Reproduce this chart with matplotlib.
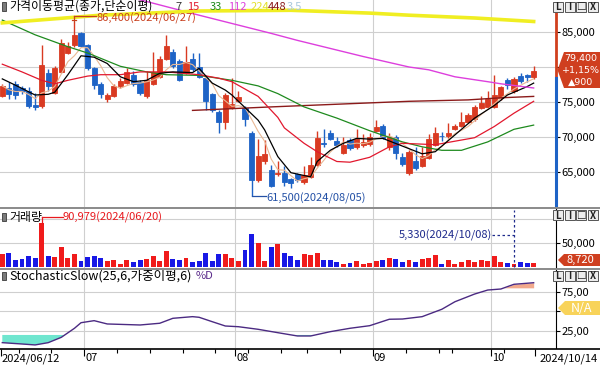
import numpy as np
import pandas as pd
import matplotlib
matplotlib.use("Agg")
import matplotlib.pyplot as plt
from matplotlib.patches import Polygon, Rectangle
from matplotlib.lines import Line2D

plt.rcParams['font.family'] = ['Noto Sans CJK KR', 'DejaVu Sans']
plt.rcParams['axes.unicode_minus'] = False

# ---------------- data ----------------
first_date = "2024/06/12"
last_date = "2024/10/14"
month_labels = ["07", "08", "09", "10"]
month_first_idx = [13, 36, 57, 75]
week_first_idx = [3, 8, 18, 23, 28, 33, 38, 43, 47, 52, 62, 67, 69, 77]

open_ = [75900, 77000, 77600, 77000, 76600, 74600, 74400, 79100, 76300, 79300,
         82000, 83200, 84800, 83100, 79800, 77600, 75400, 75900, 77300, 77700,
         78900, 77900, 75800, 77600, 78600, 81200, 82200, 80900, 79200, 81200,
         80000, 78400, 76100, 73600, 72100, 74200, 75200, 74200, 70500, 63800,
         66500, 65300, 64700, 64900, 64000, 64700, 63500, 64300, 66000, 69200,
         70600, 69400, 67700, 69600, 68500, 68800, 69000, 70900, 71600, 68500,
         70000, 67200, 64800, 66500, 65900, 67000, 68900, 70200, 70100, 71200,
         71600, 72200, 72500, 74200, 74300, 74300, 75500, 78200, 76500, 78700,
         78900, 78500]
high = [77500, 77800, 78000, 77300, 77100, 76300, 83100, 79700, 80100, 84000,
        83600, 86400, 85000, 83300, 80000, 77800, 76300, 77500, 78400, 79800,
        79400, 78100, 79400, 82200, 81600, 84600, 82600, 81100, 83000, 82000,
        82000, 78600, 76300, 73800, 76300, 78400, 76500, 74400, 70800, 69700,
        69500, 66000, 66600, 65800, 64200, 64900, 65900, 67200, 70800, 71200,
        71000, 70000, 70000, 69800, 71200, 70400, 70600, 72400, 71800, 70600,
        70300, 67700, 68100, 68600, 68500, 70400, 71400, 70700, 72000, 71900,
        73600, 73400, 74600, 75800, 76600, 78900, 77300, 78400, 78600, 79100,
        79000, 80200]
low = [75700, 75400, 75400, 76200, 74100, 73900, 74100, 76600, 76100, 79100,
       81800, 82800, 82800, 79600, 76800, 75500, 75000, 75700, 77000, 77500,
       77300, 76000, 75600, 77400, 78400, 81000, 79900, 78000, 79000, 79400,
       78400, 73800, 73500, 70600, 71100, 74000, 75000, 71600, 61500, 63500,
       66200, 62800, 64400, 63000, 62700, 63500, 63300, 64100, 65800, 68600,
       69500, 68500, 67500, 68200, 68300, 68600, 68700, 70700, 69700, 68100,
       66800, 65800, 64500, 65300, 65700, 66800, 68700, 69400, 69900, 71000,
       71400, 72000, 72300, 74000, 74100, 74100, 75300, 76900, 76300, 77700,
       77800, 78300]
close = [77300, 76200, 76000, 76500, 74400, 74300, 80300, 77300, 79800, 83400,
         83000, 84600, 83000, 79800, 77400, 76100, 76000, 77300, 78000, 79300,
         77600, 76300, 78200, 79300, 81200, 83000, 80100, 78200, 80700, 79700,
         78600, 75200, 73900, 72100, 76000, 74700, 75700, 72500, 63800, 67300,
         67600, 63000, 64900, 63500, 63400, 63800, 64600, 66000, 69900, 69000,
         69700, 68900, 68900, 68400, 69700, 69300, 70000, 71400, 69900, 70000,
         67700, 66200, 67900, 65500, 67300, 69700, 70500, 70100, 70500, 71600,
         72100, 73100, 74300, 74900, 75400, 76000, 77200, 77400, 78300, 78000,
         78500, 79400]
volume = [27800, 29200, 15300, 17400, 22200, 18800, 90979, 22200, 20800, 41700,
          18800, 27800, 11800, 20800, 22200, 19400, 12500, 13900, 6900, 13900,
          10400, 15300, 17400, 22900, 12500, 33300, 17400, 13900, 18100, 11100,
          11800, 29900, 12500, 26400, 26400, 19400, 12500, 36100, 68000, 50000,
          12500, 41700, 47200, 29200, 22200, 13900, 26400, 24300, 29900, 13900,
          13900, 9700, 6900, 8300, 11800, 6900, 9000, 11800, 13900, 19400,
          17400, 10400, 15300, 9700, 17400, 19400, 25700, 6900, 15300, 6900,
          10400, 15300, 10400, 13900, 11800, 22200, 10400, 8300, 5330, 10400,
          8300, 8720]

ma7_idx = [0, 2, 5, 7, 8, 10, 12, 14, 16, 18, 20, 22, 24, 26, 29, 30, 32, 34, 35, 37,
           39, 40, 42, 44, 46, 47, 48, 50, 52, 54, 56, 58, 61, 64, 66, 69, 72, 75, 77, 80, 81]
ma7_val = [78300, 77400, 76000, 76100, 76400, 78900, 81600, 81400, 80500, 78600,
           77900, 78100, 79100, 79300, 79200, 79800, 77700, 76700, 76000, 74200,
           72400, 71000, 67200, 64900, 64500, 64300, 66500, 68100, 69100, 69800,
           69700, 69800, 68700, 67600, 67900, 70300, 72700, 74500, 76000, 77200, 77700]
ma15_idx = [0, 3, 6, 8, 10, 13, 15, 18, 21, 25, 30, 33, 35, 39, 42, 43, 46, 48, 51, 53,
            56, 59, 61, 66, 72, 75, 78, 81]
ma15_val = [80400, 79300, 78100, 77600, 78100, 78700, 78900, 78900, 79300, 79300,
            78900, 78400, 77900, 75800, 72800, 71300, 69100, 67900, 66500, 66400,
            67100, 68600, 69100, 68900, 69900, 71500, 73400, 75100]
ma33_idx = [0, 5, 10, 13, 18, 22, 25, 30, 35, 39, 42, 46, 51, 56, 61, 64, 67, 70, 74, 78, 81]
ma33_val = [86700, 84600, 82900, 82000, 80100, 79300, 78900, 78800, 78100, 77300,
            76200, 74300, 72700, 70900, 69300, 68600, 68100, 68100, 69300, 71100, 71700]
ma112_idx = [0, 21, 30, 41, 45, 55, 62, 65, 69, 74, 76, 81]
ma112_val = [94700, 89600, 87400, 84800, 83800, 81500, 80000, 79600, 78600, 77900, 77600, 77000]
ma224_idx = [0, 15, 30, 44, 56, 62, 72, 81]
ma224_val = [86300, 87400, 88000, 88100, 87700, 87400, 87000, 86500]
ma448_idx = [29, 41, 62, 71, 76, 81]
ma448_val = [73800, 74300, 75100, 75300, 75600, 75800]

stoch_idx = [0, 3, 5, 7, 9, 11, 12, 14, 16, 21, 24, 26, 29, 30, 32, 34, 36, 39, 42, 45,
             47, 50, 53, 56, 59, 61, 64, 67, 69, 72, 74, 76, 78, 81]
stoch_val = [10.2, 8.5, 7.3, 10.2, 17.0, 28.5, 35.6, 38.2, 34.0, 32.7, 34.9, 41.2, 43.3,
             42.5, 36.9, 31.4, 30.5, 27.2, 22.9, 18.7, 18.7, 24.2, 28.5, 31.8, 40.0,
             40.3, 43.3, 52.7, 62.3, 72.1, 77.2, 78.5, 84.5, 86.5]

price_ticks = [65000, 70000, 75000, 80000, 85000]
price_tick_labels = ["65,000", "70,000", "75,000", "", "85,000"]
vol_ticks = [50000, 100000]
stoch_ticks = [25, 50, 75]

# ---------------- layout helpers ----------------
W, H = 600, 366
fig = plt.figure(figsize=(W / 100, H / 100), dpi=100)
fig.patch.set_facecolor("white")

PX = 6.56          # pixels per trading day
X0 = -0.35         # index at the left pixel edge


def rect(y0, y1, x0=0, x1=556):
    return [x0 / W, 1 - y1 / H, (x1 - x0) / W, (y1 - y0) / H]


def fp(x, y):
    return (x / W, 1 - y / H)


def ftext(x, y, s, **kw):
    fig.text(x / W, 1 - y / H, s, **kw)


def fline(xs, ys, **kw):
    fig.add_artist(Line2D([x / W for x in xs], [1 - y / H for y in ys],
                          transform=fig.transFigure, **kw))


def fpoly(pts, **kw):
    fig.add_artist(Polygon([fp(*p) for p in pts], closed=True,
                           transform=fig.transFigure, **kw))


def frect(x, y, w, h, **kw):
    fig.add_artist(Rectangle(fp(x, y + h), w / W, h / H, transform=fig.transFigure, **kw))


RED = "#D93A22"
BLUE = "#1E63C6"
VRED = "#F01B1B"
VBLUE = "#1818E6"
GRID = "#CFCFCF"
FS = 8

o = np.array(open_, float)
c = np.array(close, float)
h = np.array(high, float)
l = np.array(low, float)
v = np.array(volume, float)
n = len(c)
xi = np.arange(n)
up = c >= o
ccol = np.where(up, RED, BLUE)
vcol = np.where(up, VRED, VBLUE)
bounds = [m - 0.5 for m in month_first_idx]

# ---------------- price panel ----------------
axp = fig.add_axes(rect(0, 207))
axp.set_xlim(X0, X0 + 556 / PX)
axp.set_ylim(60000, 89571)
for s in axp.spines.values():
    s.set_visible(False)
axp.set_xticks([])
axp.yaxis.tick_right()
axp.set_yticks(price_ticks)
axp.set_yticklabels(price_tick_labels)
axp.tick_params(axis="y", direction="out", length=3, pad=1, labelsize=FS, width=0.8)
for t in price_ticks:
    axp.axhline(t, color=GRID, lw=0.8, zorder=0)
for b in bounds:
    axp.axvline(b, color=GRID, lw=0.8, zorder=0)

axp.vlines(xi, l, h, colors=ccol, lw=1.0, zorder=2)
axp.bar(xi, np.abs(c - o), bottom=np.minimum(o, c), width=0.78, color=ccol,
        edgecolor=ccol, lw=0.6, zorder=2)

ma5 = pd.Series(c).rolling(5, min_periods=1).mean()
axp.plot(xi, ma5, color="#E9B894", lw=0.8, zorder=3)
axp.plot(ma448_idx, ma448_val, color="#8B1A1A", lw=1.0, zorder=3)
axp.plot(ma33_idx, ma33_val, color="#1E8A1E", lw=0.9, zorder=3)
axp.plot(ma15_idx, ma15_val, color="#E2182E", lw=0.9, zorder=3)
axp.plot(ma7_idx, ma7_val, color="#000000", lw=0.9, zorder=3)
axp.plot(ma112_idx, ma112_val, color="#DD3FDD", lw=1.0, zorder=3)
axp.plot(ma224_idx, ma224_val, color="#F0EE22", lw=2.6, zorder=3)

# right axis coloured line
axp.plot([1, 1], [1 - 12 / 207, 1 - 78 / 207], transform=axp.transAxes, color="#D0401E",
         lw=2, clip_on=False, zorder=5)
axp.plot([1, 1], [1 - 78 / 207, 0], transform=axp.transAxes, color="#1E63C6",
         lw=2.2, clip_on=False, zorder=5)

# max / min annotations
ih = int(np.argmax(h))
yh = h[ih] + 850
axp.plot([ih, ih], [h[ih], yh], color="#C8401E", lw=0.9, zorder=4)
axp.plot([ih - 0.3, ih + 0.3], [h[ih] + 350, h[ih] + 350], color="#C8401E", lw=0.9, zorder=4)
axp.plot([ih, ih + 3.3], [yh, yh], color="#C8401E", lw=0.9, zorder=4)
axp.text(ih + 3.35, yh - 250, f"{int(h[ih]):,}(2024/06/27)", color="#C8401E", fontsize=FS,
         va="center", ha="left", zorder=6)
il = int(np.argmin(l))
axp.plot([il, il + 2.2], [l[il], l[il]], color="#2451A6", lw=0.9, zorder=4)
axp.text(il + 2.3, l[il] - 250, f"{int(l[il]):,}(2024/08/05)", color="#2451A6", fontsize=FS,
         va="center", ha="left", zorder=6)

# ---------------- volume panel ----------------
axv = fig.add_axes(rect(209, 268))
axv.set_xlim(X0, X0 + 556 / PX)
axv.set_ylim(-2083, 120800)
for k, s in axv.spines.items():
    s.set_visible(k == "right")
axv.spines["right"].set_linewidth(0.8)
axv.set_xticks([])
axv.yaxis.tick_right()
axv.set_yticks(vol_ticks)
axv.set_yticklabels(["50,000", ""])
axv.tick_params(axis="y", direction="out", length=3, pad=1, labelsize=FS, width=0.8)
for t in vol_ticks:
    axv.axhline(t, color=GRID, lw=0.8, zorder=0)
for b in bounds:
    axv.axvline(b, color=GRID, lw=0.8, zorder=0)
axv.bar(xi, v, width=0.75, color=vcol, lw=0, zorder=2)

iv = int(np.argmax(v))
yv = 104000
axv.plot([iv, iv], [v[iv], yv], color="#E8191E", lw=0.9)
axv.plot([iv, iv + 3.2], [yv, yv], color="#E8191E", lw=0.9)
axv.text(iv + 3.25, yv, f"{int(v[iv]):,}(2024/06/20)", color="#E8191E", fontsize=FS,
         va="center", ha="left")
imn = int(np.argmin(v))
axv.axvline(imn, color="#1E2A8C", lw=0.9, ls=(0, (2, 2)), ymin=0.02, ymax=0.98)
axv.plot([imn - 3.3, imn], [66700, 66700], color="#1E2A8C", lw=0.9, ls=(0, (2, 2)))
axv.text(imn - 3.4, 66700, f"{int(v[imn]):,}(2024/10/08)", color="#1E2A8C", fontsize=FS,
         va="center", ha="right")

# ---------------- stochastic panel ----------------
axs = fig.add_axes(rect(270, 348))
axs.set_xlim(X0, X0 + 556 / PX)
axs.set_ylim(3.4, 102.7)
for k, s in axs.spines.items():
    s.set_visible(k == "right")
axs.spines["right"].set_linewidth(0.8)
axs.set_xticks([])
axs.yaxis.tick_right()
axs.set_yticks(stoch_ticks)
axs.set_yticklabels(["25,00", "", "75,00"])
axs.tick_params(axis="y", direction="out", length=3, pad=1, labelsize=FS, width=0.8)
for t in stoch_ticks:
    axs.axhline(t, color=GRID, lw=0.8, zorder=0)
for b in bounds:
    axs.axvline(b, color=GRID, lw=0.8, zorder=0)
si = np.array(stoch_idx, float)
sv = np.array(stoch_val, float)
axs.fill_between(si, sv, 20, where=sv < 20, interpolate=True, color="#6FE6CF", lw=0, zorder=1)
axs.fill_between(si, sv, 80, where=sv > 80, interpolate=True, color="#F2A98C", lw=0, zorder=1)
axs.plot(si, sv, color="#4B2A82", lw=1.0, zorder=3)

# ---------------- date strip ----------------
axd = fig.add_axes(rect(349, 366, 0, 600))
axd.set_xlim(X0, X0 + 600 / PX)
axd.set_ylim(0, 1)
for k, s in axd.spines.items():
    s.set_visible(k == "top")
axd.spines["top"].set_linewidth(1.2)
axd.set_yticks([])
axd.xaxis.set_ticks_position("top")
axd.set_xticks(bounds + [X0 + 0.15, n - 1 + 0.2])
axd.set_xticklabels([])
axd.set_xticks([w - 0.5 for w in week_first_idx], minor=True)
axd.tick_params(axis="x", which="major", direction="in", length=5, width=0.8)
axd.tick_params(axis="x", which="minor", direction="in", length=3, width=0.8)
axd.text(X0 + 0.2, 0.45, first_date, fontsize=FS, va="center", ha="left")
for b, lab in zip(bounds, month_labels):
    axd.text(b + 0.15, 0.45, lab, fontsize=FS, va="center", ha="left")
axd.text(0.997, 0.45, last_date, fontsize=FS, va="center", ha="right", transform=axd.transAxes)

# ---------------- separators ----------------
fline([0, 600], [208, 208], color="#8A8A8A", lw=1.4)
fline([0, 600], [268.5, 268.5], color="#8A8A8A", lw=1.4)

# ---------------- headers ----------------
def header_icon(y):
    frect(2, y, 4, 8, facecolor="#7A7A7A", edgecolor="#3A3A3A", lw=0.6)

header_icon(2.5)
ftext(9, 6.5, "가격이동평균(종가,단순이평)", fontsize=8.6, va="center", ha="left")
for xx, s, col in [(175, "7", "#333333"), (187, "15", "#E2182E"), (210, "33", "#1E8A1E"),
                   (228, "112", "#DD3FDD"), (251, "224", "#E2E02A"),
                   (268, "448", "#8B1A1A"), (287, "3.5", "#A8C8DC")]:
    ftext(xx, 6.5, s, fontsize=FS, va="center", ha="left", color=col)

header_icon(213)
ftext(9, 217, "거래량", fontsize=8.6, va="center", ha="left")
header_icon(272)
ftext(9, 276, "StochasticSlow(25,6,가중이평,6)", fontsize=9, va="center", ha="left")
ftext(196, 276, "%D", fontsize=FS, va="center", ha="left", color="#5A2A8A")

# ---------------- window buttons ----------------
def buttons(y):
    for xx, s in zip([553, 564.5, 576, 587.5], ["L", "I", "□", "X"]):
        frect(xx, y, 10, 10, facecolor="#ECECEC", edgecolor="#555555", lw=0.7)
        ftext(xx + 5, y + 5.3, s, fontsize=7, va="center", ha="center", fontweight="bold",
              color="#222222")

buttons(2)
buttons(210.5)
buttons(270.5)

# ---------------- value boxes on the right ----------------
fpoly([(600, 52), (564, 52), (557.5, 70), (564, 88), (600, 88)], facecolor="#CF3F1F",
      edgecolor="none")
last = c[-1]
chg = c[-1] - c[-2]
pct = chg / c[-2] * 100
BOXF = dict(fontsize=6.8, color="white", va="center", ha="center", family="DejaVu Sans")
ftext(581, 58.5, f"{int(last):,}", **BOXF)
ftext(581, 70.5, ("+" if chg >= 0 else "-") + f"{pct:.2f}%".replace(".", ","), **BOXF)
ftext(581, 82.5, "▲" + f"{int(abs(chg)):,}", **BOXF)

fpoly([(600, 254), (564, 254), (558, 260), (564, 266), (600, 266)], facecolor="#CF3F1F",
      edgecolor="none")
ftext(580, 260, f"{int(v[-1]):,}", fontsize=FS, color="white", va="center", ha="center")

fpoly([(600, 301), (565, 301), (558, 308), (565, 315), (600, 315)], facecolor="#F8D35A",
      edgecolor="none")
ftext(581, 308, "N/A", fontsize=9, color="white", va="center", ha="center")

fig.savefig("out.png", dpi=100, facecolor="white")
